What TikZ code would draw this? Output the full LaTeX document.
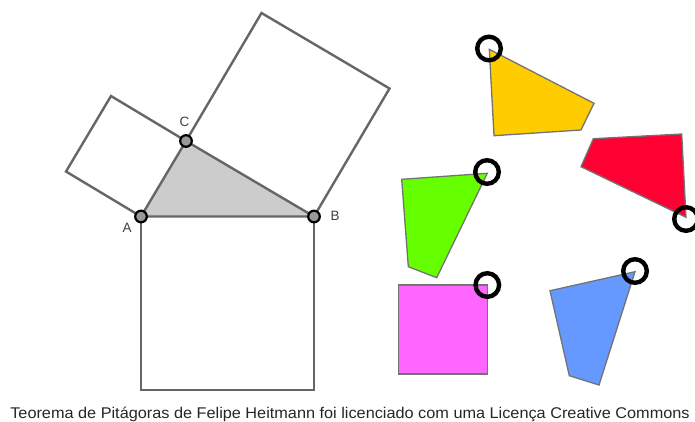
\documentclass[tikz,border=0pt]{standalone}
\usepackage{fontspec}
\setmainfont{Liberation Sans}
\begin{document}
\begin{tikzpicture}[x=1pt,y=-1pt,
  edge/.style={draw=black!60,line width=2.4pt,line join=miter},
  piece/.style={draw=black!55,line width=1.3pt,line join=miter},
  pt/.style={draw=black,line width=2.2pt,fill=black!40},
  ring/.style={draw=black,line width=4.4pt},
  lab/.style={text=black!75,font=\fontsize{13.5}{14}\selectfont,inner sep=0pt}]
\useasboundingbox (0,0) rectangle (695,421);
% main triangle
\coordinate (A) at (141,216.5);
\coordinate (B) at (314,216.5);
\coordinate (C) at (186,141);
\coordinate (Q1) at (141,390);
\coordinate (Q2) at (314,390);
\coordinate (P1) at (66,171.5);
\coordinate (P2) at (111,96);
\coordinate (R1) at (261.5,13);
\coordinate (R2) at (389.5,88.5);
\fill[black!20] (A) -- (B) -- (C) -- cycle;
\draw[edge] (A) -- (Q1) -- (Q2) -- (B);
\draw[edge] (A) -- (P1) -- (P2) -- (C);
\draw[edge] (C) -- (R1) -- (R2) -- (B);
\draw[edge] (A) -- (B) -- (C) -- cycle;
\foreach \p in {A,B,C} \draw[pt] (\p) circle (5.8);
\node[lab] (la) at (127,228) {A};
\node[lab] (lb) at (335,216) {B};
\node[lab] (lc) at (184.5,121.7) {C};
% pieces
\definecolor{cyel}{HTML}{FFCC00}
\definecolor{cred}{HTML}{FF0033}
\definecolor{cgrn}{HTML}{66FF00}
\definecolor{cmag}{HTML}{FF66FF}
\definecolor{cblu}{HTML}{6699FF}
\coordinate (y1) at (489.3,49.3);
\coordinate (y2) at (594,103.3);
\coordinate (y3) at (581,130);
\coordinate (y4) at (494,135.7);
\draw[piece,fill=cyel] (y1) -- (y2) -- (y3) -- (y4) -- cycle;
\coordinate (r1) at (593.3,138.7);
\coordinate (r2) at (681.7,134);
\coordinate (r3) at (686,217.3);
\coordinate (r4) at (581,166.7);
\draw[piece,fill=cred] (r1) -- (r2) -- (r3) -- (r4) -- cycle;
\coordinate (g1) at (401.7,179.3);
\coordinate (g2) at (487.3,173.3);
\coordinate (g3) at (436.7,277.7);
\coordinate (g4) at (408.3,266.7);
\draw[piece,fill=cgrn] (g1) -- (g2) -- (g3) -- (g4) -- cycle;
\coordinate (m1) at (398.3,285);
\coordinate (m2) at (487.7,285);
\coordinate (m3) at (487.7,374);
\coordinate (m4) at (398.3,374);
\draw[piece,fill=cmag] (m1) -- (m2) -- (m3) -- (m4) -- cycle;
\coordinate (b1) at (550,290.7);
\coordinate (b2) at (635,271.7);
\coordinate (b3) at (599,385);
\coordinate (b4) at (569.3,375.7);
\draw[piece,fill=cblu] (b1) -- (b2) -- (b3) -- (b4) -- cycle;
\draw[ring] (489,48.5) circle (11.8);
\draw[ring] (686,219) circle (11.8);
\draw[ring] (487,172) circle (11.8);
\draw[ring] (487.3,285) circle (11.8);
\draw[ring] (635,271) circle (11.8);
% caption
\node[text=black!85,font=\fontsize{15.5}{16}\selectfont,inner sep=0pt,xscale=1.05,anchor=base] (cap) at (350,418.8) {Teorema de Pitágoras de Felipe Heitmann foi licenciado com uma Licença Creative Commons};
\end{tikzpicture}
\end{document}
